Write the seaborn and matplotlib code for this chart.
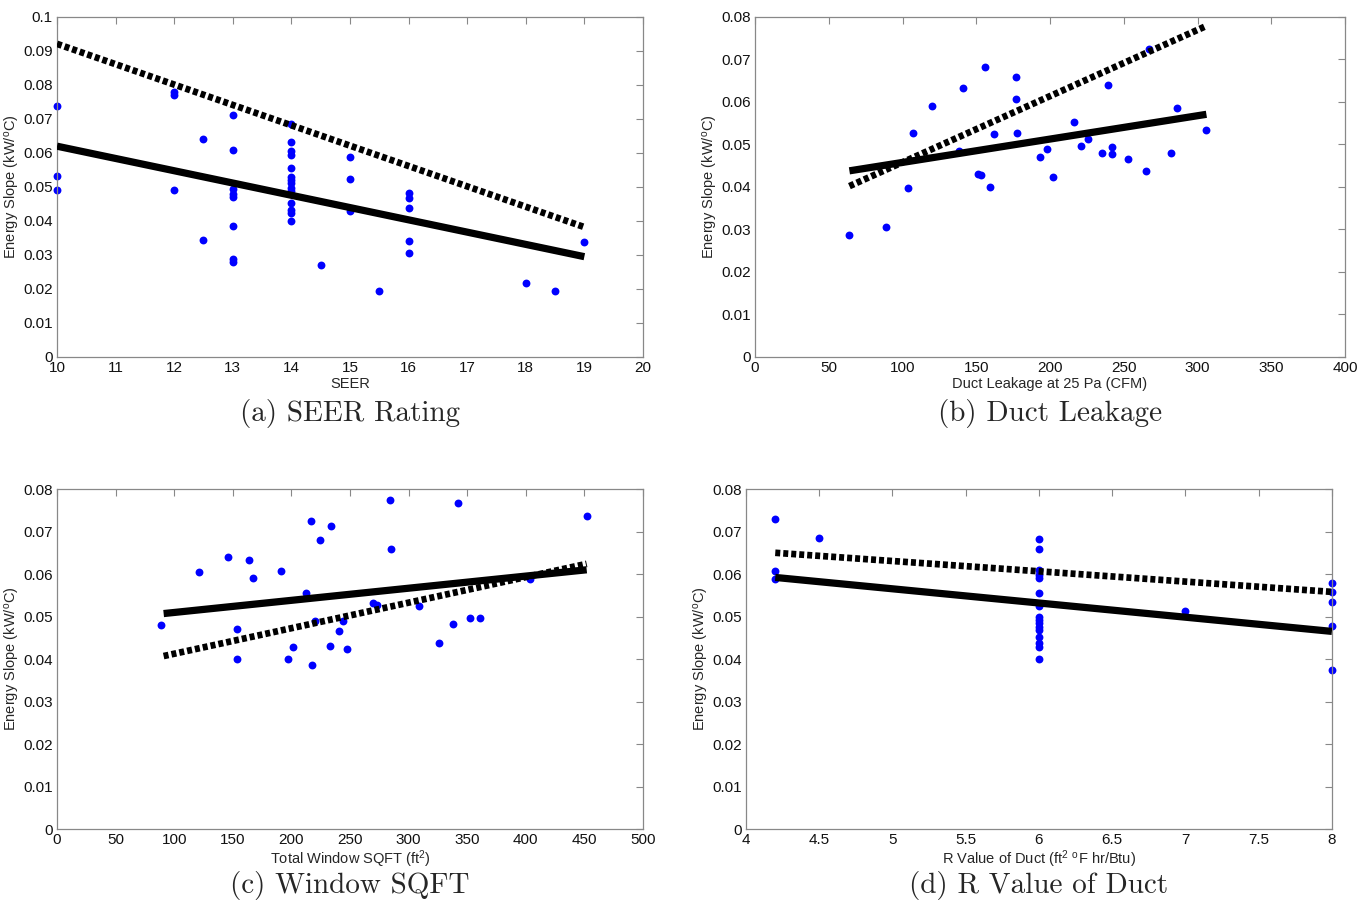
import numpy as np
import pandas as pd
import matplotlib
matplotlib.use("Agg")
import matplotlib.pyplot as plt
from matplotlib.ticker import FuncFormatter
import seaborn as sns

# ---- (a) SEER rating ----
seer_x = [10, 10, 10,
          12, 12, 12,
          12.5, 12.5,
          13, 13, 13, 13, 13, 13, 13, 13,
          14, 14, 14, 14, 14, 14, 14, 14, 14, 14, 14, 14, 14, 14,
          14.5,
          15, 15, 15,
          15.5,
          16, 16, 16, 16, 16,
          18, 18.5, 19]
seer_y = [0.0737, 0.0533, 0.0490,
          0.0778, 0.0770, 0.0490,
          0.0641, 0.0344,
          0.0713, 0.0608, 0.0495, 0.0480, 0.0470, 0.0384, 0.0289, 0.0280,
          0.0685, 0.0633, 0.0607, 0.0594, 0.0556, 0.0530, 0.0521, 0.0511,
          0.0497, 0.0488, 0.0453, 0.0432, 0.0424, 0.0401,
          0.0271,
          0.0587, 0.0524, 0.0429,
          0.0195,
          0.0483, 0.0467, 0.0438, 0.0342, 0.0305,
          0.0218, 0.0195, 0.0337]
seer_fit_x = [10, 19]
seer_fit_solid = [0.0620, 0.0295]
seer_fit_dashed = [0.0921, 0.0382]

# ---- (b) duct leakage ----
leak_x = [64, 89, 104, 107, 120, 138, 141, 151, 153, 156, 159, 162, 177, 177,
          177.5, 193, 198, 202, 216, 221, 226, 235, 239, 242, 242, 253, 265,
          267, 282, 286, 306]
leak_y = [0.0287, 0.0305, 0.0398, 0.0528, 0.0590, 0.0484, 0.0632, 0.0430,
          0.0429, 0.0682, 0.0401, 0.0525, 0.0659, 0.0608, 0.0526, 0.0470,
          0.0489, 0.0424, 0.0554, 0.0497, 0.0514, 0.0481, 0.0641, 0.0495,
          0.0478, 0.0467, 0.0437, 0.0725, 0.0480, 0.0586, 0.0533]
leak_fit_x = [64, 306]
leak_fit_solid = [0.0438, 0.0571]
leak_fit_dashed = [0.0402, 0.0779]

# ---- (c) window area ----
win_x = [88.5, 121.6, 146, 154, 154, 163.7, 167.6, 191, 197.5, 201, 212.6,
         217, 217.6, 219.8, 224.8, 232.7, 234, 241, 243.9, 247.8, 270, 273,
         284, 285, 309, 326, 338, 342, 352, 361, 404, 452.5]
win_y = [0.0481, 0.0604, 0.0641, 0.0471, 0.0399, 0.0632, 0.0591, 0.0607,
         0.0401, 0.0429, 0.0555, 0.0724, 0.0385, 0.0490, 0.0681, 0.0430,
         0.0713, 0.0466, 0.0490, 0.0424, 0.0533, 0.0528, 0.0774, 0.0659,
         0.0525, 0.0438, 0.0482, 0.0766, 0.0497, 0.0496, 0.0588, 0.0736]
win_fit_x = [91, 452]
win_fit_solid = [0.0507, 0.0610]
win_fit_dashed = [0.0407, 0.0624]

# ---- (d) duct R value ----
rval_x = [4.2, 4.2, 4.2, 4.5,
          6, 6, 6, 6, 6, 6, 6, 6, 6, 6, 6, 6, 6, 6, 6, 6,
          7,
          8, 8, 8, 8, 8]
rval_y = [0.0730, 0.0606, 0.0589, 0.0685,
          0.0682, 0.0659, 0.0609, 0.0598, 0.0590, 0.0555, 0.0525, 0.0500,
          0.0492, 0.0485, 0.0476, 0.0468, 0.0452, 0.0437, 0.0429, 0.0400,
          0.0514,
          0.0580, 0.0557, 0.0535, 0.0478, 0.0375]
rval_fit_x = [4.2, 8]
rval_fit_solid = [0.0592, 0.0465]
rval_fit_dashed = [0.0650, 0.0558]

ylabel = r"Energy Slope (kW/$^{o}$C)"

panels = [
    dict(x=seer_x, y=seer_y, fx=seer_fit_x, fs=seer_fit_solid, fd=seer_fit_dashed,
         xlim=(10, 20), xticks=np.arange(10, 20.01, 1), ylim=(0, 0.1),
         yticks=np.arange(0, 0.1001, 0.01), xlabel="SEER",
         caption="(a) SEER Rating", rect=[0.0416, 0.6073, 0.4277, 0.3740]),
    dict(x=leak_x, y=leak_y, fx=leak_fit_x, fs=leak_fit_solid, fd=leak_fit_dashed,
         xlim=(0, 400), xticks=np.arange(0, 401, 50), ylim=(0, 0.08),
         yticks=np.arange(0, 0.0801, 0.01), xlabel="Duct Leakage at 25 Pa (CFM)",
         caption="(b) Duct Leakage", rect=[0.5511, 0.6073, 0.4307, 0.3740]),
    dict(x=win_x, y=win_y, fx=win_fit_x, fs=win_fit_solid, fd=win_fit_dashed,
         xlim=(0, 500), xticks=np.arange(0, 501, 50), ylim=(0, 0.08),
         yticks=np.arange(0, 0.0801, 0.01), xlabel=r"Total Window SQFT (ft$^{2}$)",
         caption="(c) Window SQFT", rect=[0.0416, 0.0880, 0.4277, 0.3740]),
    dict(x=rval_x, y=rval_y, fx=rval_fit_x, fs=rval_fit_solid, fd=rval_fit_dashed,
         xlim=(4, 8), xticks=np.arange(4, 8.01, 0.5), ylim=(0, 0.08),
         yticks=np.arange(0, 0.0801, 0.01),
         xlabel=r"R Value of Duct (ft$^{2}$ $^{o}$F hr/Btu)",
         caption="(d) R Value of Duct", rect=[0.5445, 0.0880, 0.4277, 0.3740]),
]

sns.set_style("white")
plt.rcParams["font.family"] = ["Liberation Sans", "DejaVu Sans"]
plt.rcParams["mathtext.default"] = "regular"

fig = plt.figure(figsize=(13.7, 9.09), dpi=100)
fmt = FuncFormatter(lambda v, p: "%g" % round(v, 4))

for p in panels:
    ax = fig.add_axes(p["rect"])
    pts = pd.DataFrame({"x": p["x"], "y": p["y"]})
    sns.scatterplot(data=pts, x="x", y="y", ax=ax, color="#0000ff", s=32,
                    linewidth=0, zorder=2, clip_on=False)
    fit = pd.DataFrame({"x": p["fx"], "solid": p["fs"], "dashed": p["fd"]})
    sns.lineplot(data=fit, x="x", y="solid", ax=ax, color="black", lw=5.2,
                 zorder=3, solid_capstyle="butt")
    sns.lineplot(data=fit, x="x", y="dashed", ax=ax, color="black", lw=4.8,
                 zorder=3, dashes=False)
    ax.lines[-1].set_linestyle((0, (0.75, 0.45)))
    ax.lines[-1].set_dash_capstyle("butt")

    ax.set_xlim(*p["xlim"])
    ax.set_ylim(*p["ylim"])
    ax.set_xticks(p["xticks"])
    ax.set_yticks(p["yticks"])
    ax.xaxis.set_major_formatter(fmt)
    ax.yaxis.set_major_formatter(fmt)
    ax.tick_params(direction="in", length=5, width=0.8, color="#888888",
                   labelsize=11, labelcolor="#111111", top=True, right=True,
                   pad=3)
    for sp in ax.spines.values():
        sp.set_color("#888888")
        sp.set_linewidth(0.9)
    ax.set_xlabel(p["xlabel"], fontsize=10.5, labelpad=1)
    ax.set_ylabel(ylabel, fontsize=10.5, labelpad=1)

    bbox = ax.get_position()
    cx = bbox.x0 + bbox.width / 2
    fig.text(cx, bbox.y0 - 0.062, p["caption"], ha="center", va="center",
             fontsize=21, family="cmr10")

fig.savefig("out.png", dpi=100, facecolor="white")
